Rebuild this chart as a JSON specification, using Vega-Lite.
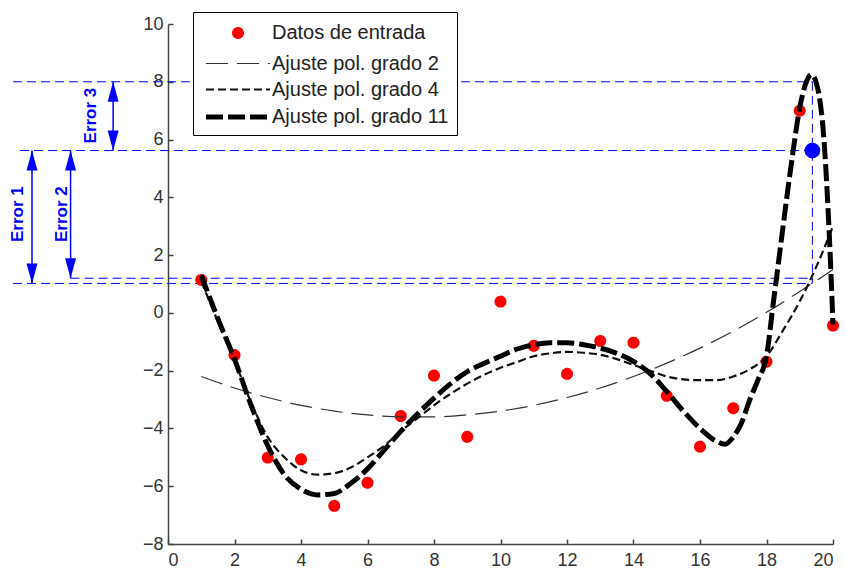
{
  "$schema": "https://vega.github.io/schema/vega-lite/v6.json",
  "width": 665,
  "height": 520,
  "autosize": {"type": "none"},
  "padding": {"left": 168, "top": 24, "right": 12, "bottom": 25},
  "background": "white",
  "config": {
    "view": {"stroke": null},
    "font": "Liberation Sans",
    "axis": {
      "grid": false,
      "domainColor": "#444444",
      "domainWidth": 1.5,
      "tickColor": "#444444",
      "tickWidth": 1.5,
      "tickSize": -5,
      "labelFont": "Liberation Sans",
      "labelFontSize": 18,
      "labelColor": "#333333",
      "title": null
    },
    "legend": {
      "orient": "none", "legendX": 25, "legendY": -12, "title": null,
      "strokeColor": "#000000", "fillColor": "#ffffff", "padding": 8,
      "labelFont": "Liberation Sans", "labelFontSize": 20, "labelColor": "#222222", "labelLimit": 0,
      "symbolSize": 400, "symbolOffset": 24, "labelOffset": 21, "rowPadding": 4.5, "symbolOpacity": 1
    }
  },
  "datasets": {
    "puntos": [
      {"x": 1, "y": 1.14, "serie": "Datos de entrada"},
      {"x": 2, "y": -1.46, "serie": "Datos de entrada"},
      {"x": 3, "y": -5.01, "serie": "Datos de entrada"},
      {"x": 4, "y": -5.07, "serie": "Datos de entrada"},
      {"x": 5, "y": -6.68, "serie": "Datos de entrada"},
      {"x": 6, "y": -5.88, "serie": "Datos de entrada"},
      {"x": 7, "y": -3.57, "serie": "Datos de entrada"},
      {"x": 8, "y": -2.17, "serie": "Datos de entrada"},
      {"x": 9, "y": -4.29, "serie": "Datos de entrada"},
      {"x": 10, "y": 0.39, "serie": "Datos de entrada"},
      {"x": 11, "y": -1.14, "serie": "Datos de entrada"},
      {"x": 12, "y": -2.11, "serie": "Datos de entrada"},
      {"x": 13, "y": -0.97, "serie": "Datos de entrada"},
      {"x": 14, "y": -1.03, "serie": "Datos de entrada"},
      {"x": 15, "y": -2.87, "serie": "Datos de entrada"},
      {"x": 16, "y": -4.63, "serie": "Datos de entrada"},
      {"x": 17, "y": -3.3, "serie": "Datos de entrada"},
      {"x": 18, "y": -1.69, "serie": "Datos de entrada"},
      {"x": 19, "y": 7.0, "serie": "Datos de entrada"},
      {"x": 20, "y": -0.44, "serie": "Datos de entrada"}
    ],
    "curvas": [
      {"serie": "Ajuste pol. grado 2", "x": 1, "y": -2.2},
      {"serie": "Ajuste pol. grado 2", "x": 2, "y": -2.6},
      {"serie": "Ajuste pol. grado 2", "x": 3, "y": -2.93},
      {"serie": "Ajuste pol. grado 2", "x": 4, "y": -3.2},
      {"serie": "Ajuste pol. grado 2", "x": 5, "y": -3.4},
      {"serie": "Ajuste pol. grado 2", "x": 6, "y": -3.53},
      {"serie": "Ajuste pol. grado 2", "x": 7, "y": -3.6},
      {"serie": "Ajuste pol. grado 2", "x": 8, "y": -3.6},
      {"serie": "Ajuste pol. grado 2", "x": 9, "y": -3.53},
      {"serie": "Ajuste pol. grado 2", "x": 10, "y": -3.4},
      {"serie": "Ajuste pol. grado 2", "x": 11, "y": -3.2},
      {"serie": "Ajuste pol. grado 2", "x": 12, "y": -2.93},
      {"serie": "Ajuste pol. grado 2", "x": 13, "y": -2.6},
      {"serie": "Ajuste pol. grado 2", "x": 14, "y": -2.2},
      {"serie": "Ajuste pol. grado 2", "x": 15, "y": -1.74},
      {"serie": "Ajuste pol. grado 2", "x": 16, "y": -1.22},
      {"serie": "Ajuste pol. grado 2", "x": 17, "y": -0.63},
      {"serie": "Ajuste pol. grado 2", "x": 18, "y": 0.02},
      {"serie": "Ajuste pol. grado 2", "x": 19, "y": 0.74},
      {"serie": "Ajuste pol. grado 2", "x": 20, "y": 1.5},
      {"serie": "Ajuste pol. grado 4", "x": 1, "y": 1.1},
      {"serie": "Ajuste pol. grado 4", "x": 1.5, "y": -0.3},
      {"serie": "Ajuste pol. grado 4", "x": 2, "y": -1.65},
      {"serie": "Ajuste pol. grado 4", "x": 2.5, "y": -3.1},
      {"serie": "Ajuste pol. grado 4", "x": 3, "y": -4.3},
      {"serie": "Ajuste pol. grado 4", "x": 3.5, "y": -5.0},
      {"serie": "Ajuste pol. grado 4", "x": 4, "y": -5.45},
      {"serie": "Ajuste pol. grado 4", "x": 4.5, "y": -5.6},
      {"serie": "Ajuste pol. grado 4", "x": 5, "y": -5.55},
      {"serie": "Ajuste pol. grado 4", "x": 5.5, "y": -5.35},
      {"serie": "Ajuste pol. grado 4", "x": 6, "y": -5.0},
      {"serie": "Ajuste pol. grado 4", "x": 6.5, "y": -4.6},
      {"serie": "Ajuste pol. grado 4", "x": 7, "y": -4.1},
      {"serie": "Ajuste pol. grado 4", "x": 7.5, "y": -3.65},
      {"serie": "Ajuste pol. grado 4", "x": 8, "y": -3.2},
      {"serie": "Ajuste pol. grado 4", "x": 8.5, "y": -2.8},
      {"serie": "Ajuste pol. grado 4", "x": 9, "y": -2.45},
      {"serie": "Ajuste pol. grado 4", "x": 9.5, "y": -2.15},
      {"serie": "Ajuste pol. grado 4", "x": 10, "y": -1.9},
      {"serie": "Ajuste pol. grado 4", "x": 10.5, "y": -1.7},
      {"serie": "Ajuste pol. grado 4", "x": 11, "y": -1.5},
      {"serie": "Ajuste pol. grado 4", "x": 11.5, "y": -1.4},
      {"serie": "Ajuste pol. grado 4", "x": 12, "y": -1.35},
      {"serie": "Ajuste pol. grado 4", "x": 12.5, "y": -1.38},
      {"serie": "Ajuste pol. grado 4", "x": 13, "y": -1.45},
      {"serie": "Ajuste pol. grado 4", "x": 13.5, "y": -1.6},
      {"serie": "Ajuste pol. grado 4", "x": 14, "y": -1.8},
      {"serie": "Ajuste pol. grado 4", "x": 14.5, "y": -2.0},
      {"serie": "Ajuste pol. grado 4", "x": 15, "y": -2.2},
      {"serie": "Ajuste pol. grado 4", "x": 15.5, "y": -2.3},
      {"serie": "Ajuste pol. grado 4", "x": 16, "y": -2.33},
      {"serie": "Ajuste pol. grado 4", "x": 16.5, "y": -2.33},
      {"serie": "Ajuste pol. grado 4", "x": 17, "y": -2.2},
      {"serie": "Ajuste pol. grado 4", "x": 17.5, "y": -1.95},
      {"serie": "Ajuste pol. grado 4", "x": 18, "y": -1.5},
      {"serie": "Ajuste pol. grado 4", "x": 18.5, "y": -0.6},
      {"serie": "Ajuste pol. grado 4", "x": 19, "y": 0.4},
      {"serie": "Ajuste pol. grado 4", "x": 19.5, "y": 1.6},
      {"serie": "Ajuste pol. grado 4", "x": 20, "y": 3.0},
      {"serie": "Ajuste pol. grado 11", "x": 1, "y": 1.3},
      {"serie": "Ajuste pol. grado 11", "x": 1.5, "y": -0.2},
      {"serie": "Ajuste pol. grado 11", "x": 2, "y": -1.6},
      {"serie": "Ajuste pol. grado 11", "x": 2.5, "y": -3.2},
      {"serie": "Ajuste pol. grado 11", "x": 3, "y": -4.6},
      {"serie": "Ajuste pol. grado 11", "x": 3.5, "y": -5.6},
      {"serie": "Ajuste pol. grado 11", "x": 4, "y": -6.1},
      {"serie": "Ajuste pol. grado 11", "x": 4.5, "y": -6.3},
      {"serie": "Ajuste pol. grado 11", "x": 5, "y": -6.25},
      {"serie": "Ajuste pol. grado 11", "x": 5.5, "y": -5.9},
      {"serie": "Ajuste pol. grado 11", "x": 6, "y": -5.4},
      {"serie": "Ajuste pol. grado 11", "x": 6.5, "y": -4.75},
      {"serie": "Ajuste pol. grado 11", "x": 7, "y": -4.1},
      {"serie": "Ajuste pol. grado 11", "x": 7.5, "y": -3.5},
      {"serie": "Ajuste pol. grado 11", "x": 8, "y": -2.95},
      {"serie": "Ajuste pol. grado 11", "x": 8.5, "y": -2.45},
      {"serie": "Ajuste pol. grado 11", "x": 9, "y": -2.03},
      {"serie": "Ajuste pol. grado 11", "x": 9.5, "y": -1.75},
      {"serie": "Ajuste pol. grado 11", "x": 10, "y": -1.5},
      {"serie": "Ajuste pol. grado 11", "x": 10.5, "y": -1.25},
      {"serie": "Ajuste pol. grado 11", "x": 11, "y": -1.1},
      {"serie": "Ajuste pol. grado 11", "x": 11.5, "y": -1.03},
      {"serie": "Ajuste pol. grado 11", "x": 12, "y": -1.03},
      {"serie": "Ajuste pol. grado 11", "x": 12.5, "y": -1.1},
      {"serie": "Ajuste pol. grado 11", "x": 13, "y": -1.22},
      {"serie": "Ajuste pol. grado 11", "x": 13.5, "y": -1.4},
      {"serie": "Ajuste pol. grado 11", "x": 14, "y": -1.68},
      {"serie": "Ajuste pol. grado 11", "x": 14.5, "y": -2.1},
      {"serie": "Ajuste pol. grado 11", "x": 15, "y": -2.72},
      {"serie": "Ajuste pol. grado 11", "x": 15.5, "y": -3.4},
      {"serie": "Ajuste pol. grado 11", "x": 16, "y": -4.0},
      {"serie": "Ajuste pol. grado 11", "x": 16.5, "y": -4.45},
      {"serie": "Ajuste pol. grado 11", "x": 16.75, "y": -4.55},
      {"serie": "Ajuste pol. grado 11", "x": 17, "y": -4.3},
      {"serie": "Ajuste pol. grado 11", "x": 17.25, "y": -3.8},
      {"serie": "Ajuste pol. grado 11", "x": 17.5, "y": -3.0},
      {"serie": "Ajuste pol. grado 11", "x": 17.75, "y": -2.3},
      {"serie": "Ajuste pol. grado 11", "x": 18, "y": -1.5},
      {"serie": "Ajuste pol. grado 11", "x": 18.2, "y": 0.3},
      {"serie": "Ajuste pol. grado 11", "x": 18.4, "y": 2.1},
      {"serie": "Ajuste pol. grado 11", "x": 18.6, "y": 3.9},
      {"serie": "Ajuste pol. grado 11", "x": 18.8, "y": 5.6},
      {"serie": "Ajuste pol. grado 11", "x": 19, "y": 7.1},
      {"serie": "Ajuste pol. grado 11", "x": 19.2, "y": 8.0},
      {"serie": "Ajuste pol. grado 11", "x": 19.35, "y": 8.25},
      {"serie": "Ajuste pol. grado 11", "x": 19.5, "y": 7.95},
      {"serie": "Ajuste pol. grado 11", "x": 19.6, "y": 7.4},
      {"serie": "Ajuste pol. grado 11", "x": 19.7, "y": 6.4},
      {"serie": "Ajuste pol. grado 11", "x": 19.8, "y": 4.7},
      {"serie": "Ajuste pol. grado 11", "x": 19.9, "y": 2.4},
      {"serie": "Ajuste pol. grado 11", "x": 20, "y": -0.4}
    ],
    "guias": [
      {"x": -4.66, "x2": 19.38, "y": 8, "y2": 8},
      {"x": -4.45, "x2": 19.38, "y": 5.62, "y2": 5.62},
      {"x": -2.93, "x2": 19.38, "y": 1.2, "y2": 1.2},
      {"x": -4.66, "x2": 19.38, "y": 1.02, "y2": 1.02},
      {"x": 19.38, "x2": 19.38, "y": 8, "y2": 1.02}
    ],
    "flechas": [
      {"x": -4.09, "y": 1.02, "y2": 5.62},
      {"x": -2.93, "y": 1.2, "y2": 5.62},
      {"x": -1.65, "y": 5.62, "y2": 8}
    ],
    "puntas": [
      {"x": -4.09, "y": 5.62, "dir": "up"},
      {"x": -4.09, "y": 1.02, "dir": "down"},
      {"x": -2.93, "y": 5.62, "dir": "up"},
      {"x": -2.93, "y": 1.2, "dir": "down"},
      {"x": -1.65, "y": 8, "dir": "up"},
      {"x": -1.65, "y": 5.62, "dir": "down"}
    ],
    "etiquetas": [
      {"x": -4.51, "y": 3.42, "t": "Error 1"},
      {"x": -3.2, "y": 3.42, "t": "Error 2"},
      {"x": -2.32, "y": 6.83, "t": "Error 3"}
    ],
    "marca": [{"x": 19.38, "y": 5.62}]
  },
  "layer": [
    {
      "data": {"name": "guias"},
      "mark": {"type": "rule", "color": "#0000ff", "strokeWidth": 1, "strokeDash": [9, 5]},
      "encoding": {
        "x": {"field": "x", "type": "quantitative", "scale": {"domain": [0, 20], "nice": false, "zero": false},
              "axis": {"values": [0, 2, 4, 6, 8, 10, 12, 14, 16, 18, 20], "labelPadding": 12, "labelBaseline": "top"}},
        "x2": {"field": "x2"},
        "y": {"field": "y", "type": "quantitative", "scale": {"domain": [-8, 10], "nice": false, "zero": false},
              "axis": {"values": [-8, -6, -4, -2, 0, 2, 4, 6, 8, 10], "labelPadding": 10}},
        "y2": {"field": "y2"}
      }
    },
    {
      "data": {"name": "puntos"},
      "mark": {"type": "point", "filled": false, "opacity": 1, "size": 400},
      "encoding": {
        "x": {"field": "x", "type": "quantitative", "scale": {"domain": [0, 20], "nice": false, "zero": false}},
        "y": {"field": "y", "type": "quantitative", "scale": {"domain": [-8, 10], "nice": false, "zero": false}},
        "color": {
          "field": "serie", "type": "nominal",
          "scale": {"domain": ["Datos de entrada", "Ajuste pol. grado 2", "Ajuste pol. grado 4", "Ajuste pol. grado 11"],
                    "range": ["#ff0000", "#333333", "#111111", "#000000"]}
        },
        "shape": {
          "field": "serie", "type": "nominal",
          "scale": {"domain": ["Datos de entrada", "Ajuste pol. grado 2", "Ajuste pol. grado 4", "Ajuste pol. grado 11"],
                    "range": ["M-0.3,0A0.3,0.3 0 1,0 0.3,0A0.3,0.3 0 1,0 -0.3,0Z", "M-3.2,0H3.2", "M-3.2,0H3.2", "M-3.2,0H3.2"]}
        },
        "strokeWidth": {
          "field": "serie", "type": "nominal",
          "scale": {"type": "ordinal", "domain": ["Datos de entrada", "Ajuste pol. grado 2", "Ajuste pol. grado 4", "Ajuste pol. grado 11"],
                    "range": [6, 1.2, 2.2, 5]}
        },
        "strokeDash": {
          "field": "serie", "type": "nominal",
          "scale": {"domain": ["Datos de entrada", "Ajuste pol. grado 2", "Ajuste pol. grado 4", "Ajuste pol. grado 11"],
                    "range": [[1, 0], [22, 9], [8, 4], [17, 5]]}
        }
      }
    },
    {
      "data": {"name": "curvas"},
      "mark": {"type": "line", "interpolate": "monotone"},
      "encoding": {
        "x": {"field": "x", "type": "quantitative", "scale": {"domain": [0, 20], "nice": false, "zero": false}},
        "y": {"field": "y", "type": "quantitative", "scale": {"domain": [-8, 10], "nice": false, "zero": false}},
        "color": {
          "field": "serie", "type": "nominal",
          "scale": {"domain": ["Datos de entrada", "Ajuste pol. grado 2", "Ajuste pol. grado 4", "Ajuste pol. grado 11"],
                    "range": ["#ff0000", "#333333", "#111111", "#000000"]}
        },
        "strokeWidth": {
          "field": "serie", "type": "nominal",
          "scale": {"type": "ordinal", "domain": ["Datos de entrada", "Ajuste pol. grado 2", "Ajuste pol. grado 4", "Ajuste pol. grado 11"],
                    "range": [6, 1.2, 2.2, 5]}
        },
        "strokeDash": {
          "field": "serie", "type": "nominal",
          "scale": {"domain": ["Datos de entrada", "Ajuste pol. grado 2", "Ajuste pol. grado 4", "Ajuste pol. grado 11"],
                    "range": [[1, 0], [22, 9], [8, 4], [17, 5]]}
        }
      }
    },
    {
      "data": {"name": "marca"},
      "mark": {"type": "point", "filled": true, "size": 250, "color": "#0000ff", "opacity": 1},
      "encoding": {
        "x": {"field": "x", "type": "quantitative", "scale": {"domain": [0, 20], "nice": false, "zero": false}},
        "y": {"field": "y", "type": "quantitative", "scale": {"domain": [-8, 10], "nice": false, "zero": false}}
      }
    },
    {
      "data": {"name": "flechas"},
      "mark": {"type": "rule", "color": "#0000ff", "strokeWidth": 1.5},
      "encoding": {
        "x": {"field": "x", "type": "quantitative", "scale": {"domain": [0, 20], "nice": false, "zero": false}},
        "y": {"field": "y", "type": "quantitative", "scale": {"domain": [-8, 10], "nice": false, "zero": false}},
        "y2": {"field": "y2"}
      }
    },
    {
      "data": {"name": "puntas"},
      "transform": [{"filter": "datum.dir === 'up'"}],
      "mark": {"type": "point", "filled": true, "size": 400, "color": "#0000ff", "opacity": 1, "strokeWidth": 0, "shape": "M0,0L-0.55,2L0.55,2Z"},
      "encoding": {
        "x": {"field": "x", "type": "quantitative", "scale": {"domain": [0, 20], "nice": false, "zero": false}},
        "y": {"field": "y", "type": "quantitative", "scale": {"domain": [-8, 10], "nice": false, "zero": false}}
      }
    },
    {
      "data": {"name": "puntas"},
      "transform": [{"filter": "datum.dir === 'down'"}],
      "mark": {"type": "point", "filled": true, "size": 400, "color": "#0000ff", "opacity": 1, "strokeWidth": 0, "shape": "M0,0L-0.55,-2L0.55,-2Z"},
      "encoding": {
        "x": {"field": "x", "type": "quantitative", "scale": {"domain": [0, 20], "nice": false, "zero": false}},
        "y": {"field": "y", "type": "quantitative", "scale": {"domain": [-8, 10], "nice": false, "zero": false}}
      }
    },
    {
      "data": {"name": "etiquetas"},
      "mark": {"type": "text", "angle": 270, "align": "center", "baseline": "middle", "fontSize": 17, "fontWeight": "bold", "font": "Liberation Sans", "color": "#0000ff"},
      "encoding": {
        "x": {"field": "x", "type": "quantitative", "scale": {"domain": [0, 20], "nice": false, "zero": false}},
        "y": {"field": "y", "type": "quantitative", "scale": {"domain": [-8, 10], "nice": false, "zero": false}},
        "text": {"field": "t"}
      }
    }
  ]
}
